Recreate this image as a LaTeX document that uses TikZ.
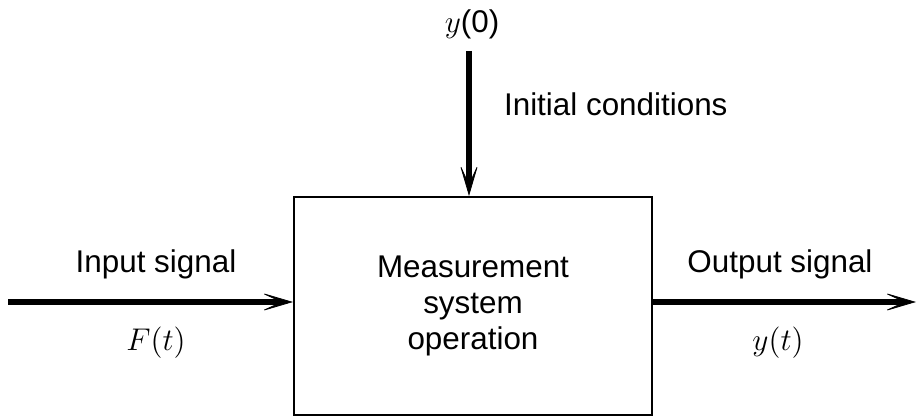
\RequirePackage{fix-cm}
\documentclass[tikz,border=0pt]{standalone}
\usepackage{fontspec}
\setmainfont{Liberation Sans}
\usetikzlibrary{arrows.meta,positioning}
\begin{document}
\begin{tikzpicture}[x=0.5pt,y=-0.5pt,
    font=\fontsize{15.7}{18}\selectfont,
    signal/.style={line width=3.4pt,
      -{Stealth[length=17pt,width=10pt,inset=11pt,line width=0.4pt]}}]
    \useasboundingbox (0,0) rectangle (918,417);
    \node[draw,line width=1pt,minimum width=179pt,minimum height=109pt,
      align=center] (sys) at (473,306) {Measurement\\system\\operation};
    \coordinate (in) at (8,302);
    \coordinate (out) at (916,302);
    \coordinate (init) at (469,51);
    \draw[signal] (in) -- (sys.west |- in);
    \draw[signal] (sys.east |- out) -- (out);
    \draw[signal,line width=3pt] (init) -- (init |- sys.north);
    \node[anchor=base] (y0) at (472,33) {$y$(0)};
    \node[anchor=base west] (initlabel) at (497,116) {Initial conditions};
    \node[anchor=base] (inlabel) at (156,273) {Input signal};
    \node[anchor=base] (ft) at (156,351) {$F(t)$};
    \node[anchor=base] (outlabel) at (780,273) {Output signal};
    \node[anchor=base] (yt) at (778,351) {$y(t)$};
\end{tikzpicture}
\end{document}
